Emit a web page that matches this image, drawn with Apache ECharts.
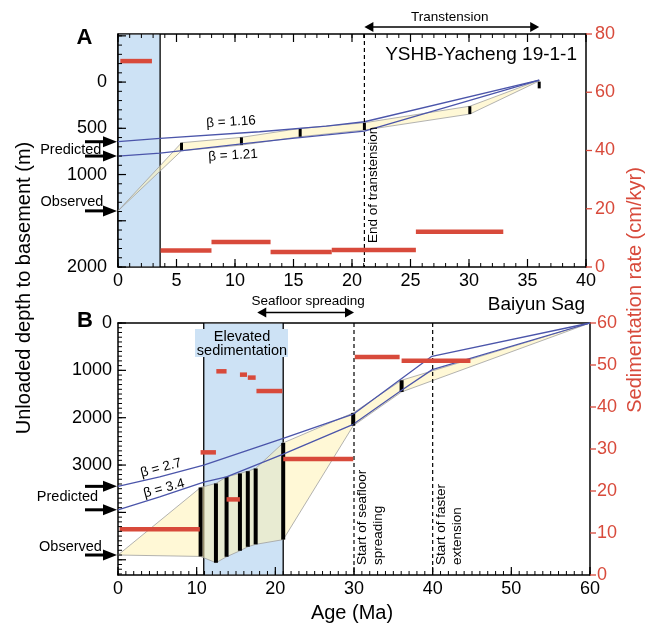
<!DOCTYPE html>
<html>
<head>
<meta charset="utf-8">
<title>Subsidence and sedimentation</title>
<script src="https://cdn.jsdelivr.net/npm/echarts/dist/echarts.min.js"></script>
<style>
html,body{margin:0;padding:0;background:#ffffff;}
#chart{width:653px;height:633px;}
</style>
</head>
<body>
<div id="chart"></div>
<script>
// ===================== Panel A : YSHB-Yacheng 19-1-1 =====================
const xTicksA = [0, 5, 10, 15, 20, 25, 30, 35, 40];
const depthLabelsA = [0, 500, 1000, 2000];
const rateTicksA = [0, 20, 40, 60, 80];

const betaA1_label = 'β = 1.16';
const betaA1_age   = [0, 3.6, 12.1, 17.8, 21.06, 36];
const betaA1_depth = [645, 609, 537, 476, 429, -20];
const betaA2_label = 'β = 1.21';
const betaA2_age   = [0, 3.6, 10.4, 14.9, 21.06, 36];
const betaA2_depth = [800, 768, 670, 609, 530, -20];

const envA_age = [0, 5.43, 10.55, 15.57, 21.06, 30.07, 36];
const envA_top = [1393, 656, 598, 501, 440, 261, -20];
const envA_bot = [1393, 743, 681, 591, 519, 346, -12];

const barsA_age = [5.43, 10.55, 15.57, 21.06, 30.07, 36];
const barsA_top = [656, 598, 501, 440, 261, -5];
const barsA_bot = [743, 681, 591, 519, 346, 68];

const sedA_start = [0.2, 3.64, 7.99, 13.04, 18.27, 25.46];
const sedA_end   = [2.9, 7.99, 13.04, 18.27, 25.46, 32.93];
const sedA_rate  = [70.7, 5.7, 8.6, 5.15, 5.84, 12.1];

const bandA = [0, 3.6];
const eventsA = [21.06];                 // End of transtension
const transtensionA = [21.06, 36];

// ===================== Panel B : Baiyun Sag =====================
const xTicksB = [0, 10, 20, 30, 40, 50, 60];
const depthLabelsB = [0, 1000, 2000, 3000];
const rateTicksB = [0, 10, 20, 30, 40, 50, 60];

const betaB1_label = 'β = 2.7';
const betaB1_age   = [0, 5.3, 10.9, 15.9, 21, 29.9, 39.9, 60];
const betaB1_depth = [3450, 3249, 3000, 2722, 2436, 1926, 703, 0];
const betaB2_label = 'β = 3.4';
const betaB2_age   = [0, 5.3, 10.9, 13.8, 21, 29.9, 36.05, 39.95, 60];
const betaB2_depth = [3945, 3671, 3360, 3249, 2770, 2140, 1420, 985, 0];

const envB_age = [0, 10.5, 12.45, 13.8, 15.5, 16.5, 17.5, 21.0, 29.9, 36.05, 60];
const envB_top = [4900, 3473, 3388, 3249, 3177, 3129, 3072, 2532, 1899, 1209, 0];
const envB_bot = [4900, 4930, 5063, 4937, 4810, 4726, 4675, 4575, 2170, 1456, 0];

const barsB_age = [10.5, 12.45, 13.8, 15.5, 16.5, 17.5, 21.0, 29.9, 36.05];
const barsB_top = [3473, 3388, 3249, 3177, 3129, 3072, 2532, 1899, 1209];
const barsB_bot = [4930, 5063, 4937, 4810, 4726, 4675, 4575, 2170, 1456];

const sedB_start = [0.2, 10.5, 12.5, 13.8, 15.5, 16.5, 17.6, 21.0, 30.1, 36.05];
const sedB_end   = [10.4, 12.45, 13.8, 15.5, 16.4, 17.5, 20.9, 29.9, 35.8, 44.8];
const sedB_rate  = [10.9, 29.2, 48.5, 18.0, 47.7, 47.0, 43.8, 27.6, 51.9, 51.0];

const bandB = [10.9, 21.0];
const eventsB = [30, 40];                // Start of seafloor spreading, start of faster extension
const spreadingB = [17.7, 30];

// ===================== Styles =====================
const FONT = '"Liberation Sans", Arial, Helvetica, sans-serif';
const RED = '#d84a3b';
const BLUE = '#4b55aa';
const BAND = '#cde2f5';
const ENV = 'rgba(255,243,180,0.55)';
const ENV_EDGE = '#a0a0a0';

const zip2 = (a, b) => a.map((v, i) => [v, b[i]]);
const zip3 = (a, b, c) => a.map((v, i) => [v, b[i], c[i]]);
const steps = (a, b, s) => { const r = []; for (let v = a; v <= b + 1e-9; v += s) r.push(Math.round(v * 1000) / 1000); return r; };

function bandSeries(xi, yi, band, edges) {
  return {
    type: 'custom', xAxisIndex: xi, yAxisIndex: yi, z: 1, silent: true, clip: false,
    data: [band],
    renderItem(params, api) {
      const cs = params.coordSys;
      const x0 = api.coord([api.value(0), 0])[0];
      const x1 = api.coord([api.value(1), 0])[0];
      const ch = [{ type: 'rect', shape: { x: x0, y: cs.y + 0.75, width: x1 - x0, height: cs.height - 1.5 }, style: { fill: BAND } }];
      edges.forEach(e => {
        const xx = e === 0 ? x0 : x1;
        ch.push({ type: 'line', shape: { x1: xx, y1: cs.y, x2: xx, y2: cs.y + cs.height }, style: { stroke: '#000', lineWidth: e === 0 && api.value(0) === 0 ? 1.5 : 1.3 } });
      });
      return { type: 'group', children: ch };
    }
  };
}

function envelopeSeries(xi, yi, ages, tops, bots) {
  return {
    type: 'custom', xAxisIndex: xi, yAxisIndex: yi, z: 2, silent: true,
    data: [[ages[0], tops[0]]],
    renderItem(params, api) {
      const pts = [];
      ages.forEach((a, i) => pts.push(api.coord([a, tops[i]])));
      for (let i = ages.length - 1; i >= 0; i--) pts.push(api.coord([ages[i], bots[i]]));
      return { type: 'polygon', shape: { points: pts }, style: { fill: ENV, stroke: ENV_EDGE, lineWidth: 0.8 } };
    }
  };
}

function barSeries(xi, yi, ages, tops, bots, w) {
  return {
    type: 'custom', xAxisIndex: xi, yAxisIndex: yi, z: 3, silent: true,
    data: zip3(ages, tops, bots),
    renderItem(params, api) {
      const p0 = api.coord([api.value(0), api.value(1)]);
      const p1 = api.coord([api.value(0), api.value(2)]);
      return { type: 'rect', shape: { x: p0[0] - w / 2, y: Math.min(p0[1], p1[1]), width: w, height: Math.abs(p1[1] - p0[1]) }, style: { fill: '#000' } };
    }
  };
}

function sedSeries(xi, yi, st, en, rate, h) {
  return {
    type: 'custom', xAxisIndex: xi, yAxisIndex: yi, z: 6, silent: true,
    data: zip3(st, en, rate),
    renderItem(params, api) {
      const p0 = api.coord([api.value(0), api.value(2)]);
      const p1 = api.coord([api.value(1), api.value(2)]);
      return { type: 'rect', shape: { x: p0[0], y: p0[1] - h / 2, width: p1[0] - p0[0], height: h }, style: { fill: RED } };
    }
  };
}

function eventSeries(xi, yi, ages) {
  return {
    type: 'custom', xAxisIndex: xi, yAxisIndex: yi, z: 5, silent: true,
    data: ages.map(a => [a, 0]),
    renderItem(params, api) {
      const cs = params.coordSys;
      const x = api.coord([api.value(0), 0])[0];
      return { type: 'line', shape: { x1: x, y1: cs.y, x2: x, y2: cs.y + cs.height }, style: { stroke: '#000', lineWidth: 1.2, lineDash: [4, 3] } };
    }
  };
}

function betaSeries(xi, yi, ages, depths) {
  return {
    type: 'line', xAxisIndex: xi, yAxisIndex: yi, z: 4, silent: true,
    data: zip2(ages, depths), symbol: 'none', showSymbol: false,
    lineStyle: { color: BLUE, width: 1.3 }
  };
}

// Axis tick marks, placed through the axis scales
function tickSeries(xi, yi, dim, side, values, len, color, width) {
  return {
    type: 'custom', xAxisIndex: xi, yAxisIndex: yi, z: 20, silent: true, clip: false,
    data: [[values[0], values[0]]],
    renderItem(params, api) {
      const cs = params.coordSys;
      const ch = [];
      values.forEach(v => {
        if (dim === 'x') {
          const x = api.coord([v, api.value(1)])[0];
          const y0 = side === 'bottom' ? cs.y + cs.height : cs.y;
          const y1 = side === 'bottom' ? y0 - len : y0 + len;
          ch.push({ type: 'line', shape: { x1: x, y1: y0, x2: x, y2: y1 }, style: { stroke: color, lineWidth: width } });
        } else {
          const y = api.coord([api.value(0), v])[1];
          const x0 = side === 'left' ? cs.x : cs.x + cs.width;
          ch.push({ type: 'line', shape: { x1: x0, y1: y, x2: x0 + len, y2: y }, style: { stroke: color, lineWidth: width } });
        }
      });
      return { type: 'group', children: ch };
    }
  };
}

const frameLine = { show: true, onZero: false, lineStyle: { color: '#000', width: 1.5 } };
const labelBase = { show: true, color: '#000', fontSize: 18, fontFamily: FONT };
const noTick = { show: false };
const noMinor = { show: false };

const option = {
  animation: false,
  backgroundColor: '#ffffff',
  grid: [
    { left: 118, top: 34, width: 468, height: 233 },
    { left: 118, top: 323, width: 472, height: 252 }
  ],
  xAxis: [
    { gridIndex: 0, type: 'value', position: 'bottom', min: 0, max: 40, interval: 5,
      axisLine: frameLine, axisTick: noTick, minorTick: noMinor,
      axisLabel: Object.assign({ margin: 5, showMinLabel: true, showMaxLabel: true, formatter: v => xTicksA.includes(v) ? String(v) : '' }, labelBase),
      splitLine: { show: false } },
    { gridIndex: 0, type: 'value', position: 'top', min: 0, max: 40, interval: 5,
      axisLine: frameLine, axisTick: noTick, minorTick: noMinor,
      axisLabel: { show: false }, splitLine: { show: false } },
    { gridIndex: 1, type: 'value', position: 'bottom', min: 0, max: 60, interval: 10,
      axisLine: frameLine, axisTick: noTick, minorTick: noMinor,
      axisLabel: Object.assign({ margin: 5, showMinLabel: true, showMaxLabel: true, formatter: v => xTicksB.includes(v) ? String(v) : '' }, labelBase),
      splitLine: { show: false } },
    { gridIndex: 1, type: 'value', position: 'top', min: 0, max: 60, interval: 10,
      axisLine: frameLine, axisTick: noTick, axisLabel: { show: false },
      splitLine: { show: false } }
  ],
  yAxis: [
    // 0: A left depth
    { gridIndex: 0, type: 'value', position: 'left', inverse: true, min: -520, max: 2000, interval: 20,
      axisLine: frameLine, axisTick: noTick, minorTick: noMinor,
      axisLabel: Object.assign({ margin: 11, formatter: v => depthLabelsA.includes(v) ? String(v) : '' }, labelBase),
      splitLine: { show: false } },
    // 1: A right (sedimentation rate)
    { gridIndex: 0, type: 'value', position: 'right', min: 0, max: 80, interval: 20,
      axisLine: frameLine, axisTick: noTick, minorTick: noMinor,
      axisLabel: Object.assign({}, labelBase, { color: RED, margin: 9, showMinLabel: true, showMaxLabel: true, formatter: v => rateTicksA.includes(v) ? String(v) : '' }),
      splitLine: { show: false } },
    // 2: B left depth
    { gridIndex: 1, type: 'value', position: 'left', inverse: true, min: 0, max: 5322, interval: 1000,
      axisLine: frameLine, axisTick: noTick, minorTick: noMinor,
      axisLabel: Object.assign({ margin: 6, showMinLabel: true, formatter: v => depthLabelsB.includes(v) ? String(v) : '' }, labelBase),
      splitLine: { show: false } },
    // 3: B right
    { gridIndex: 1, type: 'value', position: 'right', min: 0, max: 60, interval: 10,
      axisLine: frameLine, axisTick: noTick, minorTick: noMinor,
      axisLabel: Object.assign({}, labelBase, { color: RED, margin: 7, showMinLabel: true, showMaxLabel: true, formatter: v => rateTicksB.includes(v) ? String(v) : '' }),
      splitLine: { show: false } }
  ],
  series: [
    // Panel A
    bandSeries(0, 0, bandA, [0, 1]),
    envelopeSeries(0, 0, envA_age, envA_top, envA_bot),
    barSeries(0, 0, barsA_age, barsA_top, barsA_bot, 3),
    betaSeries(0, 0, betaA1_age, betaA1_depth),
    betaSeries(0, 0, betaA2_age, betaA2_depth),
    eventSeries(0, 0, eventsA),
    sedSeries(0, 1, sedA_start, sedA_end, sedA_rate, 4.5),
    // Panel B
    bandSeries(2, 2, bandB, [0, 1]),
    envelopeSeries(2, 2, envB_age, envB_top, envB_bot),
    barSeries(2, 2, barsB_age, barsB_top, barsB_bot, 4),
    betaSeries(2, 2, betaB1_age, betaB1_depth),
    betaSeries(2, 2, betaB2_age, betaB2_depth),
    eventSeries(2, 2, eventsB),
    sedSeries(2, 3, sedB_start, sedB_end, sedB_rate, 4.5),
    // Tick marks panel A
    tickSeries(0, 0, 'x', 'bottom', steps(0, 40, 1), 4, '#000', 1),
    tickSeries(0, 0, 'x', 'bottom', xTicksA, 8, '#000', 1.2),
    tickSeries(0, 0, 'x', 'top', steps(0, 40, 1), 4, '#000', 1),
    tickSeries(0, 0, 'x', 'top', xTicksA, 8, '#000', 1.2),
    tickSeries(0, 0, 'y', 'left', steps(-500, 2000, 100), 4, '#000', 1),
    tickSeries(0, 0, 'y', 'left', steps(-500, 2000, 500), 8, '#000', 1.2),
    tickSeries(0, 1, 'y', 'right', rateTicksA, 6, RED, 1.3),
    // Tick marks panel B
    tickSeries(2, 2, 'x', 'bottom', steps(0, 60, 1), 4, '#000', 1),
    tickSeries(2, 2, 'x', 'bottom', xTicksB, 8, '#000', 1.2),
    tickSeries(2, 2, 'y', 'left', steps(0, 5300, 100), 4, '#000', 1),
    tickSeries(2, 2, 'y', 'left', steps(0, 5000, 1000), 8, '#000', 1.2),
    tickSeries(2, 3, 'y', 'right', rateTicksB, 6, RED, 1.3)
  ]
};

const chart = echarts.init(document.getElementById('chart'));
chart.setOption(option);

// ===================== Annotations =====================
const P = (xi, yi, x, y) => chart.convertToPixel({ xAxisIndex: xi, yAxisIndex: yi }, [x, y]);
const g = [];
function txt(x, y, s, o) {
  o = o || {};
  g.push({ type: 'text', x: x, y: y, rotation: o.rot || 0, z: 100, silent: true,
    style: { text: s, fill: o.color || '#000', fontSize: o.size || 14, fontFamily: FONT,
      fontWeight: o.bold ? 'bold' : 'normal', align: o.align || 'center',
      verticalAlign: o.va || 'middle', lineHeight: o.lh || undefined } });
}
function arrowRight(y) {
  const xEnd = 117;
  g.push({ type: 'line', z: 100, silent: true, shape: { x1: 85, y1: y, x2: xEnd - 10, y2: y }, style: { stroke: '#000', lineWidth: 3 } });
  g.push({ type: 'polygon', z: 100, silent: true, shape: { points: [[xEnd - 14, y - 5.5], [xEnd, y], [xEnd - 14, y + 5.5]] }, style: { fill: '#000' } });
}
function dblArrow(x0, x1, y) {
  g.push({ type: 'line', z: 100, silent: true, shape: { x1: x0 + 5, y1: y, x2: x1 - 5, y2: y }, style: { stroke: '#000', lineWidth: 1.3 } });
  g.push({ type: 'polygon', z: 100, silent: true, shape: { points: [[x0, y], [x0 + 9, y - 5], [x0 + 9, y + 5]] }, style: { fill: '#000' } });
  g.push({ type: 'polygon', z: 100, silent: true, shape: { points: [[x1, y], [x1 - 9, y - 5], [x1 - 9, y + 5]] }, style: { fill: '#000' } });
}

// Panel letters & titles
txt(84.5, 37.5, 'A', { size: 22, bold: true });
txt(85, 320.5, 'B', { size: 22, bold: true });
txt(577, 55, 'YSHB-Yacheng 19-1-1', { size: 19, align: 'right' });
txt(585, 304.5, 'Baiyun Sag', { size: 19, align: 'right' });

// Transtension arrow
const tA0 = P(0, 0, transtensionA[0], 0)[0], tA1 = P(0, 0, transtensionA[1], 0)[0];
dblArrow(tA0, tA1, 27);
txt((tA0 + tA1) / 2 - 2, 17, 'Transtension', { size: 13.5 });

// Seafloor spreading arrow
const sB0 = P(2, 2, spreadingB[0], 0)[0], sB1 = P(2, 2, spreadingB[1], 0)[0];
dblArrow(sB0, sB1, 312.5);
txt((sB0 + sB1) / 2 + 2.5, 301.5, 'Seafloor spreading', { size: 13.5 });

// Vertical event labels
const eA = P(0, 0, eventsA[0], 0)[0];
txt(eA + 9, 243, 'End of transtension', { size: 13.5, rot: Math.PI / 2, align: 'left', va: 'middle' });
const eB0 = P(2, 2, eventsB[0], 0)[0], eB1 = P(2, 2, eventsB[1], 0)[0];
txt(eB0 + 1, 565, 'Start of seafloor\nspreading', { size: 13.5, rot: Math.PI / 2, align: 'left', va: 'top', lh: 15.2 });
txt(eB1 + 1, 565, 'Start of faster\nextension', { size: 13.5, rot: Math.PI / 2, align: 'left', va: 'top', lh: 15.5 });

// Elevated sedimentation box
g.push({ type: 'rect', z: 90, silent: true, shape: { x: 195, y: 329, width: 93, height: 28 }, style: { fill: BAND } });
txt(242, 344, 'Elevated\nsedimentation', { size: 14.5, lh: 13.5 });

// Beta labels
txt(231, 122, betaA1_label, { size: 13.5, rot: 0.06 });
txt(233, 155.5, betaA2_label, { size: 13.5, rot: 0.06 });
txt(161, 468, betaB1_label, { size: 13.5, rot: 0.26 });
txt(164, 488.5, betaB2_label, { size: 13.5, rot: 0.26 });

// Predicted / observed arrows
arrowRight(P(0, 0, 0, betaA1_depth[0])[1]);
arrowRight(P(0, 0, 0, betaA2_depth[0])[1]);
arrowRight(P(0, 0, 0, envA_top[0])[1]);
txt(70.8, 150, 'Predicted', { size: 14.5 });
txt(72, 201.5, 'Observed', { size: 14.5 });
arrowRight(P(2, 2, 0, betaB1_depth[0])[1]);
arrowRight(P(2, 2, 0, betaB2_depth[0])[1]);
arrowRight(P(2, 2, 0, envB_top[0])[1]);
txt(67.5, 497, 'Predicted', { size: 14.5 });
txt(70.5, 547, 'Observed', { size: 14.5 });

// Axis titles
txt(24, 288, 'Unloaded depth to basement (m)', { size: 20, rot: Math.PI / 2 });
txt(635, 290, 'Sedimentation rate (cm/kyr)', { size: 20, rot: Math.PI / 2, color: RED });
txt(352, 613, 'Age (Ma)', { size: 20 });

chart.setOption({ graphic: { elements: g } });
</script>
</body>
</html>
